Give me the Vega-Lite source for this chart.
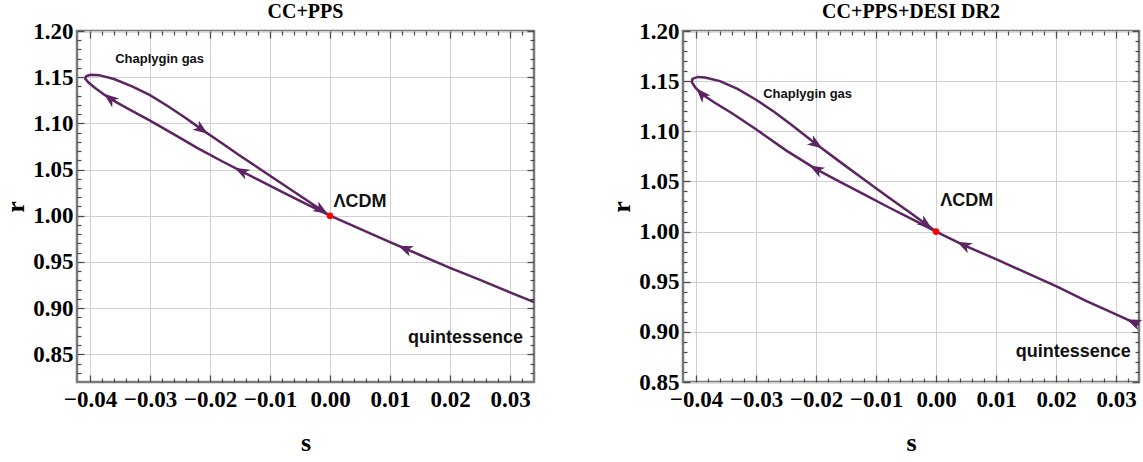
{
  "$schema": "https://vega.github.io/schema/vega-lite/v6.json",
  "padding": {"left": 0, "top": 0, "right": 0, "bottom": 0},
  "background": "#ffffff",
  "config": {
    "view": {"stroke": "#7a7a7a", "strokeWidth": 2.5},
    "axis": {"labelFlush": false, "labelOverlap": false, "minExtent": 0, "maxExtent": 0}
  },
  "datasets": {
    "curveL": [
      {"i": 1, "s": 0.034, "r": 0.9064}, {"i": 2, "s": 0.03, "r": 0.917}, {"i": 3, "s": 0.025, "r": 0.9305},
      {"i": 4, "s": 0.02, "r": 0.9435}, {"i": 5, "s": 0.015, "r": 0.9575}, {"i": 6, "s": 0.01, "r": 0.9715},
      {"i": 7, "s": 0.005, "r": 0.9858}, {"i": 8, "s": 0.0, "r": 1.0},
      {"i": 9, "s": -0.004, "r": 1.0128}, {"i": 10, "s": -0.008, "r": 1.0258}, {"i": 11, "s": -0.012, "r": 1.039},
      {"i": 12, "s": -0.0148, "r": 1.0482}, {"i": 13, "s": -0.018, "r": 1.059}, {"i": 14, "s": -0.022, "r": 1.073},
      {"i": 15, "s": -0.026, "r": 1.088}, {"i": 16, "s": -0.03, "r": 1.103}, {"i": 17, "s": -0.033, "r": 1.1135},
      {"i": 18, "s": -0.0355, "r": 1.1225}, {"i": 19, "s": -0.0375, "r": 1.1305}, {"i": 20, "s": -0.0392, "r": 1.1385},
      {"i": 21, "s": -0.0403, "r": 1.1445}, {"i": 22, "s": -0.0408, "r": 1.1485}, {"i": 23, "s": -0.0406, "r": 1.1512},
      {"i": 24, "s": -0.0399, "r": 1.1527}, {"i": 25, "s": -0.0385, "r": 1.1522},
      {"i": 26, "s": -0.036, "r": 1.148}, {"i": 27, "s": -0.033, "r": 1.14}, {"i": 28, "s": -0.03, "r": 1.1305},
      {"i": 29, "s": -0.027, "r": 1.1185}, {"i": 30, "s": -0.024, "r": 1.1055}, {"i": 31, "s": -0.0214, "r": 1.0935},
      {"i": 32, "s": -0.018, "r": 1.0785}, {"i": 33, "s": -0.015, "r": 1.065}, {"i": 34, "s": -0.012, "r": 1.052},
      {"i": 35, "s": -0.009, "r": 1.039}, {"i": 36, "s": -0.006, "r": 1.026}, {"i": 37, "s": -0.003, "r": 1.013},
      {"i": 38, "s": 0.0, "r": 1.0}
    ],
    "curveR": [
      {"i": 1, "s": 0.0338, "r": 0.907}, {"i": 2, "s": 0.03, "r": 0.9175}, {"i": 3, "s": 0.025, "r": 0.931},
      {"i": 4, "s": 0.02, "r": 0.9455}, {"i": 5, "s": 0.015, "r": 0.959}, {"i": 6, "s": 0.01, "r": 0.9725},
      {"i": 7, "s": 0.0046, "r": 0.9865}, {"i": 8, "s": 0.0, "r": 1.0},
      {"i": 9, "s": -0.004, "r": 1.0125}, {"i": 10, "s": -0.008, "r": 1.0245}, {"i": 11, "s": -0.012, "r": 1.037},
      {"i": 12, "s": -0.016, "r": 1.0495}, {"i": 13, "s": -0.02, "r": 1.0623}, {"i": 14, "s": -0.025, "r": 1.081},
      {"i": 15, "s": -0.03, "r": 1.102}, {"i": 16, "s": -0.034, "r": 1.118}, {"i": 17, "s": -0.037, "r": 1.129},
      {"i": 18, "s": -0.039, "r": 1.137}, {"i": 19, "s": -0.0401, "r": 1.1435}, {"i": 20, "s": -0.0407, "r": 1.149},
      {"i": 21, "s": -0.0406, "r": 1.1522}, {"i": 22, "s": -0.0397, "r": 1.1542}, {"i": 23, "s": -0.0385, "r": 1.1537},
      {"i": 24, "s": -0.036, "r": 1.15}, {"i": 25, "s": -0.033, "r": 1.142}, {"i": 26, "s": -0.03, "r": 1.1315},
      {"i": 27, "s": -0.027, "r": 1.1195}, {"i": 28, "s": -0.024, "r": 1.106}, {"i": 29, "s": -0.02, "r": 1.0873},
      {"i": 30, "s": -0.016, "r": 1.0695}, {"i": 31, "s": -0.012, "r": 1.052}, {"i": 32, "s": -0.008, "r": 1.0345},
      {"i": 33, "s": -0.004, "r": 1.0175}, {"i": 34, "s": 0.0, "r": 1.0}
    ],
    "arrowsL": [
      {"s": -0.0367, "r": 1.127, "heading": 218},
      {"s": -0.0214, "r": 1.0935, "heading": 35},
      {"s": -0.0148, "r": 1.0482, "heading": 207},
      {"s": -0.0014, "r": 1.0061, "heading": 32},
      {"s": 0.0125, "r": 0.9645, "heading": 203}
    ],
    "arrowsR": [
      {"s": -0.0391, "r": 1.1375, "heading": 228},
      {"s": -0.02, "r": 1.0873, "heading": 34},
      {"s": -0.02, "r": 1.0623, "heading": 209},
      {"s": -0.0017, "r": 1.0074, "heading": 37},
      {"s": 0.0046, "r": 0.9865, "heading": 206},
      {"s": 0.0329, "r": 0.9097, "heading": 203}
    ],
    "pointL": [{"s": 0.0, "r": 1.0}],
    "pointR": [{"s": 0.0, "r": 1.0}],
    "chapL": [{"s": -0.0284, "r": 1.1696, "label": "Chaplygin gas"}],
    "chapR": [{"s": -0.0214, "r": 1.137, "label": "Chaplygin gas"}],
    "textL": [
      {"s": 0.0006, "r": 1.0149, "label": "ΛCDM"},
      {"s": 0.013, "r": 0.8674, "label": "quintessence"}
    ],
    "textR": [
      {"s": 0.0007, "r": 1.0303, "label": "ΛCDM"},
      {"s": 0.0133, "r": 0.8797, "label": "quintessence"}
    ]
  },
  "hconcat": [
    {
      "width": 457,
      "height": 351,
      "title": {"text": "CC+PPS", "font": "Liberation Serif", "fontWeight": "bold", "fontSize": 20, "color": "#000000", "frame": "group", "anchor": "middle", "offset": -18, "baseline": "alphabetic"},
      "resolve": {"axis": {"x": "independent", "y": "independent"}},
      "layer": [
        {
          "data": {"name": "curveL"},
          "mark": {"type": "line", "color": "#5c2461", "strokeWidth": 2.5, "clip": true},
          "encoding": {
            "x": {"field": "s", "type": "quantitative", "scale": {"domain": [-0.04217, 0.034], "nice": false, "zero": false},
              "axis": {"orient": "bottom", "values": [-0.04, -0.03, -0.02, -0.01, 0, 0.01, 0.02, 0.03], "format": ".2f", "grid": true, "gridColor": "#d0d0d0", "gridWidth": 1, "ticks": false, "domain": false, "labelFont": "Liberation Serif", "labelFontWeight": "bold", "labelFontSize": 23, "labelColor": "#000000", "labelPadding": 6, "minExtent": 30, "maxExtent": 30, "title": "s", "titleFont": "Liberation Serif", "titleFontWeight": "bold", "titleFontSize": 26, "titleColor": "#000000", "titlePadding": 17}},
            "y": {"field": "r", "type": "quantitative", "scale": {"domain": [0.82, 1.2], "nice": false, "zero": false},
              "axis": {"orient": "left", "values": [0.85, 0.9, 0.95, 1.0, 1.05, 1.1, 1.15, 1.2], "format": ".2f", "grid": true, "gridColor": "#d0d0d0", "gridWidth": 1, "ticks": false, "domain": false, "labelFont": "Liberation Serif", "labelFontWeight": "bold", "labelFontSize": 23, "labelColor": "#000000", "labelPadding": 4, "minExtent": 42, "maxExtent": 42, "title": "r", "titleFont": "Liberation Serif", "titleFontWeight": "bold", "titleFontSize": 26, "titleColor": "#000000", "titlePadding": 7}},
            "order": {"field": "i", "type": "quantitative"}
          }
        },
        {
          "data": {"name": "arrowsL"},
          "mark": {"type": "point", "shape": "M1,0L-1,-0.75L-0.45,0L-1,0.75Z", "filled": true, "color": "#5c2461", "opacity": 1, "size": 220},
          "encoding": {
            "x": {"field": "s", "type": "quantitative", "axis": {"orient": "bottom", "values": [-0.04, -0.03, -0.02, -0.01, 0, 0.01, 0.02, 0.03], "labels": false, "grid": false, "domain": false, "ticks": true, "tickSize": 7, "offset": -7, "tickColor": "#4a4a4a", "tickWidth": 1.3, "title": null, "minExtent": 0, "maxExtent": 0}},
            "y": {"field": "r", "type": "quantitative", "axis": {"orient": "left", "values": [0.85, 0.9, 0.95, 1.0, 1.05, 1.1, 1.15, 1.2], "labels": false, "grid": false, "domain": false, "ticks": true, "tickSize": 7, "offset": -7, "tickColor": "#4a4a4a", "tickWidth": 1.3, "title": null, "minExtent": 0, "maxExtent": 0}},
            "angle": {"field": "heading", "type": "quantitative", "scale": null}
          }
        },
        {
          "data": {"name": "pointL"},
          "mark": {"type": "circle", "color": "#ff0000", "opacity": 1, "size": 45},
          "encoding": {
            "x": {"field": "s", "type": "quantitative", "axis": {"orient": "top", "values": [-0.04, -0.03, -0.02, -0.01, 0, 0.01, 0.02, 0.03], "labels": false, "grid": false, "domain": false, "ticks": true, "tickSize": 7, "offset": -7, "tickColor": "#4a4a4a", "tickWidth": 1.3, "title": null, "minExtent": 0, "maxExtent": 0}},
            "y": {"field": "r", "type": "quantitative", "axis": {"orient": "right", "values": [0.85, 0.9, 0.95, 1.0, 1.05, 1.1, 1.15, 1.2], "labels": false, "grid": false, "domain": false, "ticks": true, "tickSize": 7, "offset": -7, "tickColor": "#4a4a4a", "tickWidth": 1.3, "title": null, "minExtent": 0, "maxExtent": 0}}
          }
        },
        {
          "data": {"name": "chapL"},
          "mark": {"type": "text", "font": "Liberation Sans", "fontWeight": "bold", "fontSize": 13, "align": "center", "baseline": "middle", "color": "#111111"},
          "encoding": {
            "text": {"field": "label"},
            "x": {"field": "s", "type": "quantitative", "axis": {"orient": "bottom", "values": [-0.038, -0.036, -0.034, -0.032, -0.028, -0.026, -0.024, -0.022, -0.018, -0.016, -0.014, -0.012, -0.008, -0.006, -0.004, -0.002, 0.002, 0.004, 0.006, 0.008, 0.012, 0.014, 0.016, 0.018, 0.022, 0.024, 0.026, 0.028, 0.032], "labels": false, "grid": false, "domain": false, "ticks": true, "tickSize": 4, "offset": -4, "tickColor": "#4a4a4a", "tickWidth": 1.2, "title": null, "minExtent": 0, "maxExtent": 0}},
            "y": {"field": "r", "type": "quantitative", "axis": {"orient": "left", "values": [0.83, 0.84, 0.86, 0.87, 0.88, 0.89, 0.91, 0.92, 0.93, 0.94, 0.96, 0.97, 0.98, 0.99, 1.01, 1.02, 1.03, 1.04, 1.06, 1.07, 1.08, 1.09, 1.11, 1.12, 1.13, 1.14, 1.16, 1.17, 1.18, 1.19], "labels": false, "grid": false, "domain": false, "ticks": true, "tickSize": 4, "offset": -4, "tickColor": "#4a4a4a", "tickWidth": 1.2, "title": null, "minExtent": 0, "maxExtent": 0}}
          }
        },
        {
          "data": {"name": "textL"},
          "mark": {"type": "text", "font": "Liberation Sans", "fontWeight": "bold", "fontSize": 18, "align": "left", "baseline": "middle", "color": "#111111"},
          "encoding": {
            "text": {"field": "label"},
            "x": {"field": "s", "type": "quantitative", "axis": {"orient": "top", "values": [-0.038, -0.036, -0.034, -0.032, -0.028, -0.026, -0.024, -0.022, -0.018, -0.016, -0.014, -0.012, -0.008, -0.006, -0.004, -0.002, 0.002, 0.004, 0.006, 0.008, 0.012, 0.014, 0.016, 0.018, 0.022, 0.024, 0.026, 0.028, 0.032], "labels": false, "grid": false, "domain": false, "ticks": true, "tickSize": 4, "offset": -4, "tickColor": "#4a4a4a", "tickWidth": 1.2, "title": null, "minExtent": 0, "maxExtent": 0}},
            "y": {"field": "r", "type": "quantitative", "axis": {"orient": "right", "values": [0.83, 0.84, 0.86, 0.87, 0.88, 0.89, 0.91, 0.92, 0.93, 0.94, 0.96, 0.97, 0.98, 0.99, 1.01, 1.02, 1.03, 1.04, 1.06, 1.07, 1.08, 1.09, 1.11, 1.12, 1.13, 1.14, 1.16, 1.17, 1.18, 1.19], "labels": false, "grid": false, "domain": false, "ticks": true, "tickSize": 4, "offset": -4, "tickColor": "#4a4a4a", "tickWidth": 1.2, "title": null, "minExtent": 0, "maxExtent": 0}}
          }
        }
      ]
    },
    {
      "width": 456,
      "height": 351,
      "title": {"text": "CC+PPS+DESI DR2", "font": "Liberation Serif", "fontWeight": "bold", "fontSize": 20, "color": "#000000", "frame": "group", "anchor": "middle", "offset": -18, "baseline": "alphabetic"},
      "resolve": {"axis": {"x": "independent", "y": "independent"}},
      "layer": [
        {
          "data": {"name": "curveR"},
          "mark": {"type": "line", "color": "#5c2461", "strokeWidth": 2.5, "clip": true},
          "encoding": {
            "x": {"field": "s", "type": "quantitative", "scale": {"domain": [-0.04217, 0.03383], "nice": false, "zero": false},
              "axis": {"orient": "bottom", "values": [-0.04, -0.03, -0.02, -0.01, 0, 0.01, 0.02, 0.03], "format": ".2f", "grid": true, "gridColor": "#d0d0d0", "gridWidth": 1, "ticks": false, "domain": false, "labelFont": "Liberation Serif", "labelFontWeight": "bold", "labelFontSize": 23, "labelColor": "#000000", "labelPadding": 6, "minExtent": 30, "maxExtent": 30, "title": "s", "titleFont": "Liberation Serif", "titleFontWeight": "bold", "titleFontSize": 26, "titleColor": "#000000", "titlePadding": 17}},
            "y": {"field": "r", "type": "quantitative", "scale": {"domain": [0.85, 1.2], "nice": false, "zero": false},
              "axis": {"orient": "left", "values": [0.85, 0.9, 0.95, 1.0, 1.05, 1.1, 1.15, 1.2], "format": ".2f", "grid": true, "gridColor": "#d0d0d0", "gridWidth": 1, "ticks": false, "domain": false, "labelFont": "Liberation Serif", "labelFontWeight": "bold", "labelFontSize": 23, "labelColor": "#000000", "labelPadding": 4, "minExtent": 42, "maxExtent": 42, "title": "r", "titleFont": "Liberation Serif", "titleFontWeight": "bold", "titleFontSize": 26, "titleColor": "#000000", "titlePadding": 7}},
            "order": {"field": "i", "type": "quantitative"}
          }
        },
        {
          "data": {"name": "arrowsR"},
          "mark": {"type": "point", "shape": "M1,0L-1,-0.75L-0.45,0L-1,0.75Z", "filled": true, "color": "#5c2461", "opacity": 1, "size": 220},
          "encoding": {
            "x": {"field": "s", "type": "quantitative", "axis": {"orient": "bottom", "values": [-0.04, -0.03, -0.02, -0.01, 0, 0.01, 0.02, 0.03], "labels": false, "grid": false, "domain": false, "ticks": true, "tickSize": 7, "offset": -7, "tickColor": "#4a4a4a", "tickWidth": 1.3, "title": null, "minExtent": 0, "maxExtent": 0}},
            "y": {"field": "r", "type": "quantitative", "axis": {"orient": "left", "values": [0.85, 0.9, 0.95, 1.0, 1.05, 1.1, 1.15, 1.2], "labels": false, "grid": false, "domain": false, "ticks": true, "tickSize": 7, "offset": -7, "tickColor": "#4a4a4a", "tickWidth": 1.3, "title": null, "minExtent": 0, "maxExtent": 0}},
            "angle": {"field": "heading", "type": "quantitative", "scale": null}
          }
        },
        {
          "data": {"name": "pointR"},
          "mark": {"type": "circle", "color": "#ff0000", "opacity": 1, "size": 45},
          "encoding": {
            "x": {"field": "s", "type": "quantitative", "axis": {"orient": "top", "values": [-0.04, -0.03, -0.02, -0.01, 0, 0.01, 0.02, 0.03], "labels": false, "grid": false, "domain": false, "ticks": true, "tickSize": 7, "offset": -7, "tickColor": "#4a4a4a", "tickWidth": 1.3, "title": null, "minExtent": 0, "maxExtent": 0}},
            "y": {"field": "r", "type": "quantitative", "axis": {"orient": "right", "values": [0.85, 0.9, 0.95, 1.0, 1.05, 1.1, 1.15, 1.2], "labels": false, "grid": false, "domain": false, "ticks": true, "tickSize": 7, "offset": -7, "tickColor": "#4a4a4a", "tickWidth": 1.3, "title": null, "minExtent": 0, "maxExtent": 0}}
          }
        },
        {
          "data": {"name": "chapR"},
          "mark": {"type": "text", "font": "Liberation Sans", "fontWeight": "bold", "fontSize": 13, "align": "center", "baseline": "middle", "color": "#111111"},
          "encoding": {
            "text": {"field": "label"},
            "x": {"field": "s", "type": "quantitative", "axis": {"orient": "bottom", "values": [-0.038, -0.036, -0.034, -0.032, -0.028, -0.026, -0.024, -0.022, -0.018, -0.016, -0.014, -0.012, -0.008, -0.006, -0.004, -0.002, 0.002, 0.004, 0.006, 0.008, 0.012, 0.014, 0.016, 0.018, 0.022, 0.024, 0.026, 0.028, 0.032], "labels": false, "grid": false, "domain": false, "ticks": true, "tickSize": 4, "offset": -4, "tickColor": "#4a4a4a", "tickWidth": 1.2, "title": null, "minExtent": 0, "maxExtent": 0}},
            "y": {"field": "r", "type": "quantitative", "axis": {"orient": "left", "values": [0.86, 0.87, 0.88, 0.89, 0.91, 0.92, 0.93, 0.94, 0.96, 0.97, 0.98, 0.99, 1.01, 1.02, 1.03, 1.04, 1.06, 1.07, 1.08, 1.09, 1.11, 1.12, 1.13, 1.14, 1.16, 1.17, 1.18, 1.19], "labels": false, "grid": false, "domain": false, "ticks": true, "tickSize": 4, "offset": -4, "tickColor": "#4a4a4a", "tickWidth": 1.2, "title": null, "minExtent": 0, "maxExtent": 0}}
          }
        },
        {
          "data": {"name": "textR"},
          "mark": {"type": "text", "font": "Liberation Sans", "fontWeight": "bold", "fontSize": 18, "align": "left", "baseline": "middle", "color": "#111111"},
          "encoding": {
            "text": {"field": "label"},
            "x": {"field": "s", "type": "quantitative", "axis": {"orient": "top", "values": [-0.038, -0.036, -0.034, -0.032, -0.028, -0.026, -0.024, -0.022, -0.018, -0.016, -0.014, -0.012, -0.008, -0.006, -0.004, -0.002, 0.002, 0.004, 0.006, 0.008, 0.012, 0.014, 0.016, 0.018, 0.022, 0.024, 0.026, 0.028, 0.032], "labels": false, "grid": false, "domain": false, "ticks": true, "tickSize": 4, "offset": -4, "tickColor": "#4a4a4a", "tickWidth": 1.2, "title": null, "minExtent": 0, "maxExtent": 0}},
            "y": {"field": "r", "type": "quantitative", "axis": {"orient": "right", "values": [0.86, 0.87, 0.88, 0.89, 0.91, 0.92, 0.93, 0.94, 0.96, 0.97, 0.98, 0.99, 1.01, 1.02, 1.03, 1.04, 1.06, 1.07, 1.08, 1.09, 1.11, 1.12, 1.13, 1.14, 1.16, 1.17, 1.18, 1.19], "labels": false, "grid": false, "domain": false, "ticks": true, "tickSize": 4, "offset": -4, "tickColor": "#4a4a4a", "tickWidth": 1.2, "title": null, "minExtent": 0, "maxExtent": 0}}
          }
        }
      ]
    }
  ],
  "spacing": 149,
  "bounds": "flush"
}
